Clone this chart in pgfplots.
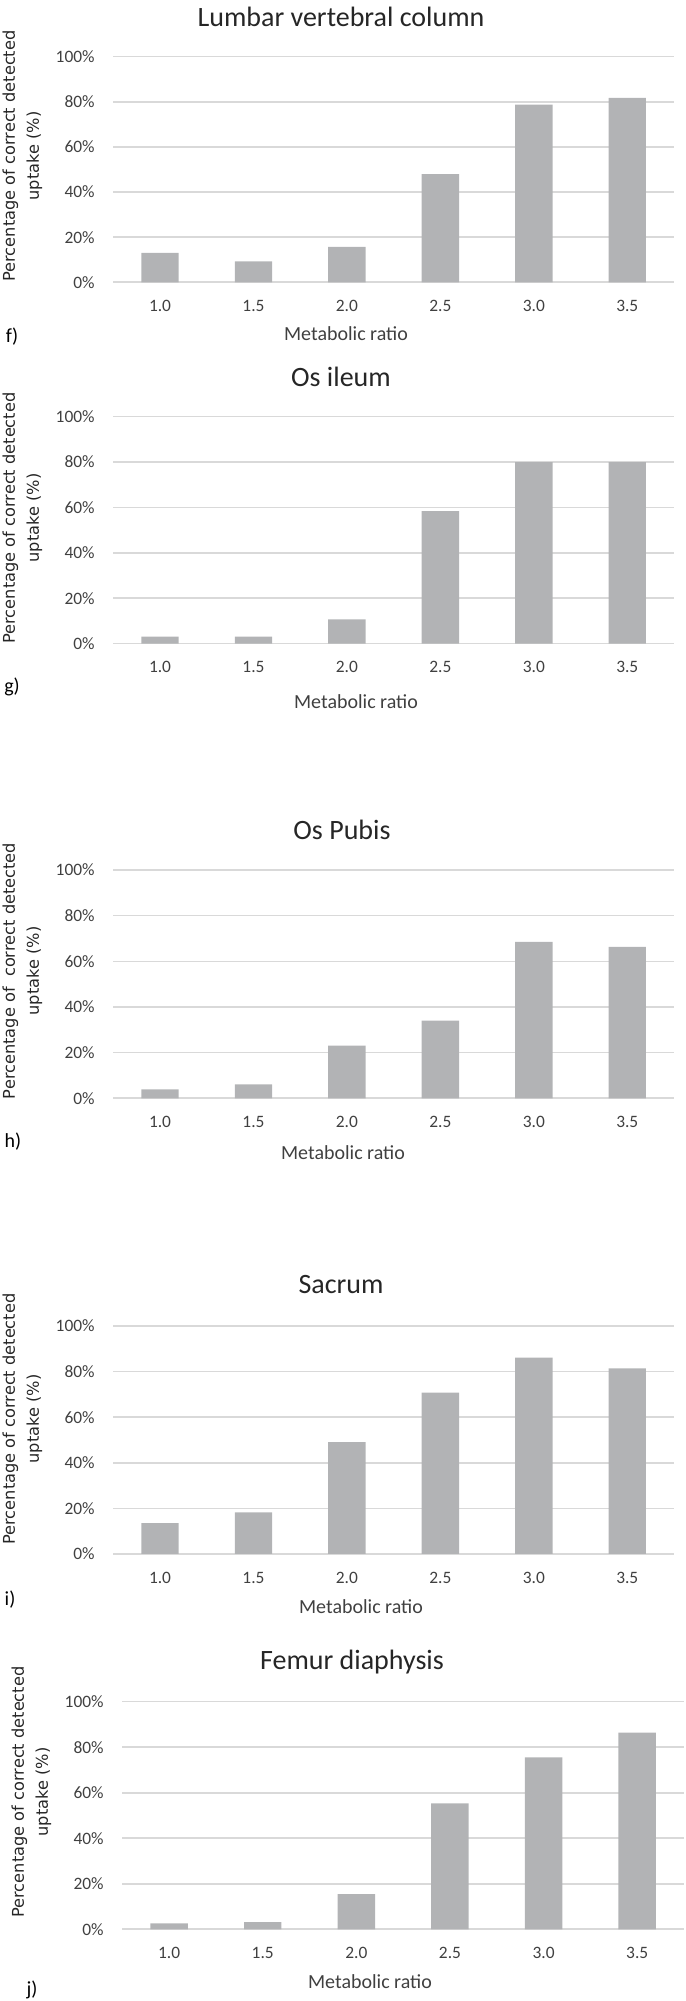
\documentclass[border=0pt]{standalone}
\usepackage{pgfplots}
\pgfplotsset{compat=1.18}
\usepackage{fontspec}
\setmainfont{Carlito}
\newfontfamily\ylfont{DejaVu Sans}
\definecolor{barc}{RGB}{178,179,181}
\definecolor{gridc}{RGB}{217,217,217}
\definecolor{tickc}{RGB}{64,64,64}
\definecolor{titc}{RGB}{38,38,38}
\pgfplotsset{
 mybar/.style={
  scale only axis, anchor=south west,
  ybar, bar width=0.4, xmin=-0.5, xmax=5.5, ymin=0, ymax=100,
  xtick={0,1,2,3,4,5}, xticklabels={1.0,1.5,2.0,2.5,3.0,3.5},
  ytick={0,20,40,60,80,100}, yticklabels={0\%,20\%,40\%,60\%,80\%,100\%},
  ymajorgrids, grid style={draw=gridc, line width=0.8pt},
  axis line style={draw=none}, major tick length=0pt,
  tick label style={font=\fontsize{8.7}{10}\selectfont, text=tickc, inner sep=0pt},
  xticklabel style={anchor=center, yshift=-11.75pt},
  yticklabel style={anchor=east, xshift=-9.15pt},
  clip=false,
 },
}
\tikzset{
 ttl/.style={font=\fontsize{14}{17}\selectfont, text=titc, inner sep=0pt, anchor=center},
 xl/.style={font=\fontsize{10}{12}\selectfont, text=tickc, inner sep=0pt, anchor=center},
 lt/.style={font=\fontsize{10}{12}\selectfont, text=black, inner sep=0pt, anchor=center},
 yl/.style={font=\ylfont\fontsize{8.1}{12}\selectfont, text=titc, inner sep=0pt, anchor=center, rotate=90, align=center},
}
\begin{document}
\begin{tikzpicture}
\path[use as bounding box] (0,0) rectangle (342.5pt,1000.5pt);
% panel f
\begin{axis}[mybar, at={(56.65pt,859.35pt)}, width=280.35pt, height=112.8pt]
\addplot[fill=barc, draw=none] coordinates {(0,13.0) (1,9.3) (2,15.7) (3,47.9) (4,78.7) (5,81.7)};
\end{axis}
\node[ttl] at (170.5pt,992.15pt) {Lumbar vertebral column};
\node[xl] at (173pt,833.5pt) {Metabolic ratio};
\node[lt] at (6pt,832pt) {f)};
\node[yl] at (11.25pt,922.5pt) {Percentage of correct detected\\uptake (\%)};
% panel g
\begin{axis}[mybar, at={(56.65pt,678.65pt)}, width=280.35pt, height=113.5pt]
\addplot[fill=barc, draw=none] coordinates {(0,3.1) (1,3.1) (2,10.7) (3,58.4) (4,80.0) (5,80.0)};
\end{axis}
\node[ttl] at (170.5pt,812pt) {Os ileum};
\node[xl] at (178pt,649.5pt) {Metabolic ratio};
\node[lt] at (6pt,657pt) {g)};
\node[yl] at (11.25pt,741.5pt) {Percentage of correct detected\\uptake (\%)};
% panel h
\begin{axis}[mybar, at={(56.65pt,451.35pt)}, width=280.35pt, height=114.15pt]
\addplot[fill=barc, draw=none] coordinates {(0,3.9) (1,6.1) (2,23.1) (3,34.0) (4,68.5) (5,66.3)};
\end{axis}
\node[ttl] at (171pt,585.5pt) {Os Pubis};
\node[xl] at (171.5pt,424pt) {Metabolic ratio};
\node[lt] at (6.5pt,429.5pt) {h)};
\node[yl] at (11.25pt,515pt) {Percentage of~ correct detected\\uptake (\%)};
% panel i
\begin{axis}[mybar, at={(56.65pt,223.5pt)}, width=280.35pt, height=114pt]
\addplot[fill=barc, draw=none] coordinates {(0,13.5) (1,18.3) (2,49.1) (3,70.8) (4,86.1) (5,81.4)};
\end{axis}
\node[ttl] at (170.5pt,358pt) {Sacrum};
\node[xl] at (180.5pt,197pt) {Metabolic ratio};
\node[lt] at (5pt,200.5pt) {i)};
\node[yl] at (11.25pt,291pt) {Percentage of correct detected\\uptake (\%)};
% panel j
\begin{axis}[mybar, at={(61.15pt,35.85pt)}, width=280.85pt, height=113.8pt]
\addplot[fill=barc, draw=none] coordinates {(0,2.6) (1,3.1) (2,15.4) (3,55.3) (4,75.5) (5,86.4)};
\end{axis}
\node[ttl] at (176pt,169.5pt) {Femur diaphysis};
\node[xl] at (185pt,9.5pt) {Metabolic ratio};
\node[lt] at (16pt,5.5pt) {j)};
\node[yl] at (15.75pt,104.5pt) {Percentage of correct detected\\uptake (\%)};
\end{tikzpicture}
\end{document}
